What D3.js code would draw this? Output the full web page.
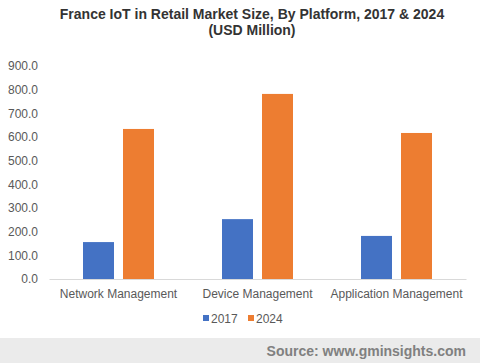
<!DOCTYPE html>
<html>
<head>
<meta charset="utf-8">
<script src="https://cdn.jsdelivr.net/npm/d3@7"></script>
<style>
  body { margin: 0; background: #fff; }
  svg { display: block; font-family: "Liberation Sans", Arial, sans-serif; }
</style>
</head>
<body>
<svg width="480" height="363"></svg>
<script>

var categories = ["Network Management", "Device Management", "Application Management"]
var years = ["2017", "2024"]
var values2017 = [156, 253, 182]
var values2024 = [634, 782, 617]
var yTicks = [0, 100, 200, 300, 400, 500, 600, 700, 800, 900]
var colors = ["#4472c4", "#ed7d31"]

var svg = d3.select("svg")

var x = d3.scaleBand().domain(categories).range([49, 466])
var x1 = d3.scaleBand().domain(years).range([0, 71]).paddingInner(9 / 40)
var y = d3.scaleLinear().domain([0, 900]).range([279, 66])

// title
svg.append("text")
  .attr("x", 252).attr("y", 18.5)
  .attr("text-anchor", "middle")
  .style("font-weight", "bold").style("font-size", "14px").style("fill", "#333333")
  .text("France IoT in Retail Market Size, By Platform, 2017 & 2024")
svg.append("text")
  .attr("x", 252).attr("y", 34.5)
  .attr("text-anchor", "middle")
  .style("font-weight", "bold").style("font-size", "14px").style("fill", "#333333")
  .text("(USD Million)")

// bars
var rows = categories.map(function(c, i){ return {cat: c, vals: [values2017[i], values2024[i]]} })

var groups = svg.selectAll(".grp").data(rows).enter().append("g")
  .attr("class", "grp")
  .attr("transform", function(d){ return "translate(" + (x(d.cat) + (x.bandwidth() - 71) / 2) + ",0)" })

groups.selectAll("rect").data(function(d){ return d.vals.map(function(v, j){ return {year: years[j], v: v, j: j} }) })
  .enter().append("rect")
    .attr("x", function(d){ return x1(d.year) })
    .attr("width", x1.bandwidth())
    .attr("y", function(d){ return y(d.v) })
    .attr("height", function(d){ return y(0) - y(d.v) })
    .style("fill", function(d){ return colors[d.j] })

// y axis
var yAxis = svg.append("g")
  .attr("transform", "translate(38,0)")
  .call(d3.axisLeft(y).tickValues(yTicks).tickSize(0).tickPadding(0).tickFormat(d3.format(".1f")))
yAxis.select(".domain").remove()
yAxis.selectAll("text").style("font-size", "12px").style("fill", "#595959").style("font-family", "Liberation Sans, Arial, sans-serif")

// x axis
var xAxis = svg.append("g")
  .attr("transform", "translate(0," + y(0) + ")")
  .call(d3.axisBottom(x).tickSize(0).tickPadding(10))
xAxis.select(".domain").style("stroke", "#d9d9d9")
xAxis.selectAll("text").style("font-size", "12px").style("fill", "#595959").style("font-family", "Liberation Sans, Arial, sans-serif")

// legend
var legend = svg.selectAll(".leg").data(years).enter().append("g")
  .attr("class", "leg")
  .attr("transform", function(d, i){ return "translate(" + (203 + i * 45) + ",318)" })
legend.append("rect")
  .attr("x", 0).attr("y", -3).attr("width", 6).attr("height", 6)
  .style("fill", function(d, i){ return colors[i] })
legend.append("text")
  .attr("x", 8).attr("y", 4.5)
  .style("font-size", "12px").style("fill", "#595959")
  .text(function(d){ return d })

// source bar
svg.append("rect")
  .attr("x", 0).attr("y", 338).attr("width", 480).attr("height", 25)
  .style("fill", "#ebebeb")
svg.append("text")
  .attr("x", 466).attr("y", 356)
  .attr("text-anchor", "end")
  .style("font-weight", "bold").style("font-size", "14px").style("fill", "#808080")
  .text("Source: www.gminsights.com")

</script>
</body>
</html>
